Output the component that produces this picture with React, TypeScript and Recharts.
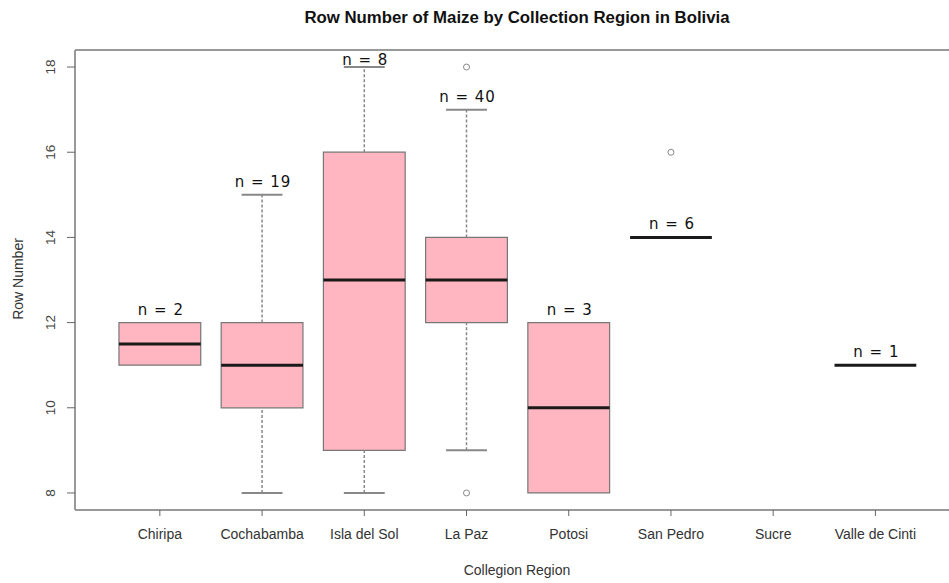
import { ComposedChart, ReferenceArea, ReferenceDot, ReferenceLine, Scatter, XAxis, YAxis } from 'recharts';

const regions = ['Chiripa', 'Cochabamba', 'Isla del Sol', 'La Paz', 'Potosi', 'San Pedro', 'Sucre', 'Valle de Cinti'];
const lowerWhisker = [11, 8, 8, 9, 8, 14, null, 11];
const lowerQuartile = [11, 10, 9, 12, 8, 14, null, 11];
const medians = [11.5, 11, 13, 13, 10, 14, null, 11];
const upperQuartile = [12, 12, 16, 14, 12, 14, null, 11];
const upperWhisker = [12, 15, 18, 17, 12, 14, null, 11];
const counts = [2, 19, 8, 40, 3, 6, 0, 1];
const outlierRegions = ['La Paz', 'La Paz', 'San Pedro'];
const outlierValues = [18, 8, 16];
const yTicks = [8, 10, 12, 14, 16, 18];

const WIDTH = 949;
const HEIGHT = 583;
const TOP = 50;
const xDomain: [number, number] = [0.17, 8.72];
const yDomain: [number, number] = [7.6, 18.4];
const BOX_HALF = 0.4;
const CAP_HALF = 0.2;

const axisColor = '#999';
const boxStroke = '#777';
const pink = '#FFB6C1';
const sans = '"Liberation Sans", Arial, sans-serif';

const countLabels = regions
  .map((r, i) => ({ x: i + 1, y: upperWhisker[i], n: counts[i] }))
  .filter((d) => d.n > 0 && d.y != null);

function XTick(props: any) {
  const { x, y, payload } = props;
  return (
    <text x={x} y={y} dy={21} textAnchor="middle" fontFamily={sans} fontSize={14} fill="#333">
      {regions[payload.value - 1]}
    </text>
  );
}

function YTick(props: any) {
  const { y, payload } = props;
  const tx = 55;
  return (
    <text
      x={tx}
      y={y}
      transform={`rotate(-90, ${tx}, ${y})`}
      textAnchor="middle"
      fontFamily={sans}
      fontSize={13.5}
      fill="#444"
    >
      {payload.value}
    </text>
  );
}

function CountLabel(props: any) {
  const { cx, cy, payload } = props;
  // keep the label inside the plot frame
  const baseline = Math.max(cy - 8, TOP + 15);
  return (
    <text
      x={cx + 1}
      y={baseline}
      textAnchor="middle"
      fontFamily='"DejaVu Sans", Verdana, sans-serif'
      fontSize={15}
      letterSpacing={1}
      fill="#111"
    >
      {`n = ${payload.n}`}
    </text>
  );
}

export default function App() {
  const whiskers: any[] = [];
  const boxes: any[] = [];
  const medianLines: any[] = [];

  regions.forEach((region, i) => {
    const pos = i + 1;
    const lo = lowerWhisker[i];
    const q1 = lowerQuartile[i];
    const med = medians[i];
    const q3 = upperQuartile[i];
    const hi = upperWhisker[i];
    if (med == null || lo == null || q1 == null || q3 == null || hi == null) return;

    if (hi > q3) {
      whiskers.push(
        <ReferenceLine
          key={`wh-${region}`}
          segment={[{ x: pos, y: q3 }, { x: pos, y: hi }]}
          stroke="#888"
          strokeWidth={1.5}
          strokeDasharray="3 2"
        />,
        <ReferenceLine
          key={`ch-${region}`}
          segment={[{ x: pos - CAP_HALF, y: hi }, { x: pos + CAP_HALF, y: hi }]}
          stroke="#888"
          strokeWidth={2}
        />
      );
    }
    if (lo < q1) {
      whiskers.push(
        <ReferenceLine
          key={`wl-${region}`}
          segment={[{ x: pos, y: lo }, { x: pos, y: q1 }]}
          stroke="#888"
          strokeWidth={1.5}
          strokeDasharray="3 2"
        />,
        <ReferenceLine
          key={`cl-${region}`}
          segment={[{ x: pos - CAP_HALF, y: lo }, { x: pos + CAP_HALF, y: lo }]}
          stroke="#888"
          strokeWidth={2}
        />
      );
    }
    if (q3 > q1) {
      boxes.push(
        <ReferenceArea
          key={`box-${region}`}
          x1={pos - BOX_HALF}
          x2={pos + BOX_HALF}
          y1={q1}
          y2={q3}
          fill={pink}
          fillOpacity={1}
          stroke={boxStroke}
          strokeWidth={1.2}
        />
      );
    }
    medianLines.push(
      <ReferenceLine
        key={`med-${region}`}
        segment={[{ x: pos - BOX_HALF, y: med }, { x: pos + BOX_HALF, y: med }]}
        stroke="#1a1a1a"
        strokeWidth={3}
      />
    );
  });

  const outliers = outlierValues.map((v, k) => (
    <ReferenceDot
      key={`out-${k}`}
      x={regions.indexOf(outlierRegions[k]) + 1}
      y={v}
      r={3}
      fill="#fff"
      stroke="#888"
      strokeWidth={1}
    />
  ));

  return (
    <div style={{ position: 'fixed', left: 0, top: 0, width: WIDTH, height: HEIGHT, background: '#fff', overflow: 'hidden' }}>
      <div
        style={{
          position: 'absolute',
          left: 517,
          top: 8,
          transform: 'translateX(-50%)',
          whiteSpace: 'nowrap',
          fontFamily: sans,
          fontWeight: 'bold',
          fontSize: 16.8,
          color: '#111',
        }}
      >
        Row Number of Maize by Collection Region in Bolivia
      </div>
      <div
        style={{
          position: 'absolute',
          left: 18,
          top: 279,
          transform: 'translate(-50%, -50%) rotate(-90deg)',
          whiteSpace: 'nowrap',
          fontFamily: sans,
          fontSize: 14,
          color: '#333',
        }}
      >
        Row Number
      </div>
      <div
        style={{
          position: 'absolute',
          left: 517,
          top: 570,
          transform: 'translate(-50%, -50%)',
          whiteSpace: 'nowrap',
          fontFamily: sans,
          fontSize: 14,
          color: '#333',
        }}
      >
        Collegion Region
      </div>
      <ComposedChart width={WIDTH} height={HEIGHT} margin={{ top: TOP, right: 0, bottom: 0, left: 0 }}>
        <XAxis
          type="number"
          dataKey="x"
          domain={xDomain}
          ticks={[1, 2, 3, 4, 5, 6, 7, 8]}
          interval={0}
          allowDataOverflow
          height={73}
          axisLine={{ stroke: axisColor, strokeWidth: 2 }}
          tickLine={{ stroke: '#666', strokeWidth: 1 }}
          tickSize={6}
          tick={<XTick />}
        />
        <YAxis
          type="number"
          dataKey="y"
          domain={yDomain}
          ticks={yTicks}
          interval={0}
          allowDataOverflow
          width={75}
          axisLine={{ stroke: axisColor, strokeWidth: 2 }}
          tickLine={{ stroke: '#666', strokeWidth: 1 }}
          tickSize={8}
          tick={<YTick />}
        />
        <ReferenceLine y={yDomain[1]} stroke={axisColor} strokeWidth={2} ifOverflow="visible" />
        {whiskers}
        {boxes}
        {medianLines}
        {outliers}
        <Scatter data={countLabels} dataKey="y" shape={<CountLabel />} isAnimationActive={false} />
      </ComposedChart>
    </div>
  );
}
